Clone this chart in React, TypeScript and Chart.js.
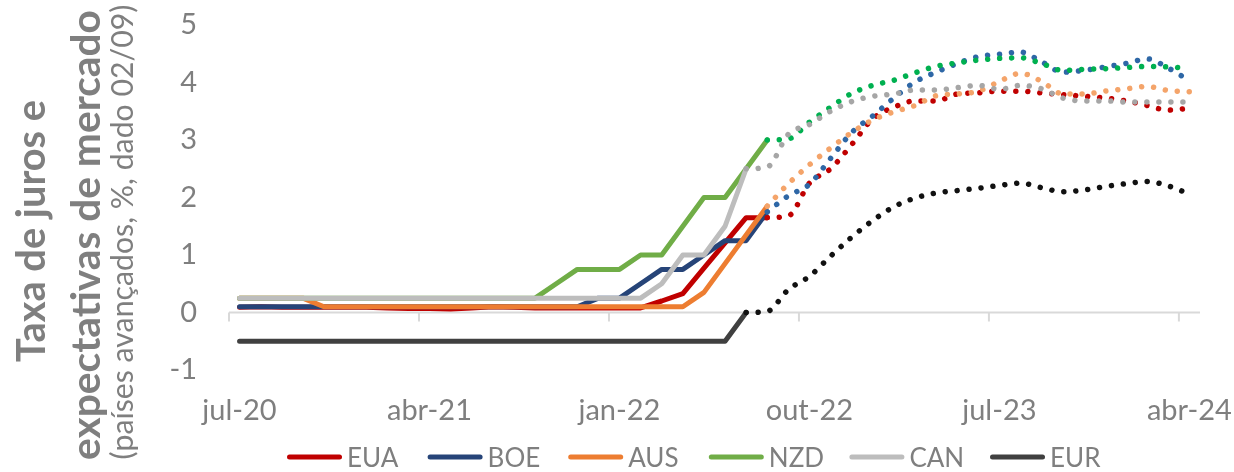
import React, { useEffect, useRef } from 'react';
import { Chart, registerables } from 'chart.js';

Chart.register(...registerables);

// ---- categories / ticks ----
const xTickMonths = [0, 9, 18, 27, 36, 45]; // months since jul-20
const xTickLabels = ['jul-20', 'abr-21', 'jan-22', 'out-22', 'jul-23', 'abr-24'];
const seriesNames = ['EUA', 'BOE', 'AUS', 'NZD', 'CAN', 'EUR'];

// ---- policy rates (monthly, from jul-20) ----
const euaRate = [0.09, 0.10, 0.09, 0.09, 0.09, 0.09, 0.09, 0.08, 0.07, 0.07, 0.06, 0.08, 0.10, 0.09, 0.08, 0.08, 0.08, 0.08, 0.08, 0.08, 0.20, 0.33, 0.77, 1.21, 1.65, 1.65];
const boeRate = [0.1, 0.1, 0.1, 0.1, 0.1, 0.1, 0.1, 0.1, 0.1, 0.1, 0.1, 0.1, 0.1, 0.1, 0.1, 0.1, 0.1, 0.25, 0.25, 0.5, 0.75, 0.75, 1.0, 1.25, 1.25, 1.75];
const ausRate = [0.25, 0.25, 0.25, 0.25, 0.1, 0.1, 0.1, 0.1, 0.1, 0.1, 0.1, 0.1, 0.1, 0.1, 0.1, 0.1, 0.1, 0.1, 0.1, 0.1, 0.1, 0.1, 0.35, 0.85, 1.35, 1.85];
const nzdRate = [0.25, 0.25, 0.25, 0.25, 0.25, 0.25, 0.25, 0.25, 0.25, 0.25, 0.25, 0.25, 0.25, 0.25, 0.25, 0.5, 0.75, 0.75, 0.75, 1.0, 1.0, 1.5, 2.0, 2.0, 2.5, 3.0];
const canRate = [0.25, 0.25, 0.25, 0.25, 0.25, 0.25, 0.25, 0.25, 0.25, 0.25, 0.25, 0.25, 0.25, 0.25, 0.25, 0.25, 0.25, 0.25, 0.25, 0.25, 0.5, 1.0, 1.0, 1.5, 2.5];
const eurRate = [-0.5, -0.5, -0.5, -0.5, -0.5, -0.5, -0.5, -0.5, -0.5, -0.5, -0.5, -0.5, -0.5, -0.5, -0.5, -0.5, -0.5, -0.5, -0.5, -0.5, -0.5, -0.5, -0.5, -0.5, 0];

// ---- market expectations (monthly), starting month index ----
const euaExpStart = 25;
const euaExp = [1.65, 1.68, 2.25, 2.5, 2.92, 3.37, 3.57, 3.68, 3.68, 3.8, 3.82, 3.85, 3.85, 3.82, 3.79, 3.76, 3.73, 3.68, 3.6, 3.52, 3.55];
const boeExpStart = 25;
const boeExp = [1.75, 2.03, 2.23, 2.68, 3.13, 3.42, 3.73, 4.01, 4.18, 4.33, 4.45, 4.49, 4.53, 4.36, 4.18, 4.21, 4.27, 4.33, 4.41, 4.25, 4.03];
const ausExpStart = 25;
const ausExp = [1.85, 2.24, 2.57, 2.86, 3.13, 3.35, 3.49, 3.6, 3.77, 3.8, 3.85, 4.02, 4.16, 4.02, 3.8, 3.8, 3.85, 3.89, 3.93, 3.86, 3.84];
const nzdExpStart = 25;
const nzdExp = [3.0, 3.02, 3.31, 3.57, 3.81, 3.95, 4.04, 4.17, 4.28, 4.34, 4.39, 4.42, 4.43, 4.33, 4.21, 4.23, 4.24, 4.26, 4.28, 4.27, 4.25];
const canExpStart = 24;
const canExp = [2.5, 2.53, 3.1, 3.27, 3.5, 3.67, 3.76, 3.8, 3.87, 3.87, 3.91, 3.95, 3.88, 3.95, 3.89, 3.73, 3.68, 3.68, 3.66, 3.66, 3.66, 3.66];
const eurExpStart = 24;
const eurExp = [0, 0.02, 0.4, 0.63, 0.98, 1.31, 1.6, 1.84, 1.99, 2.08, 2.12, 2.16, 2.21, 2.25, 2.17, 2.1, 2.13, 2.19, 2.24, 2.28, 2.2, 2.06];

const solidColors = ['#C00000', '#264478', '#ED7D31', '#70AD47', '#BDBDBD', '#404040'];
const dotColors = ['#C00000', '#2E67A6', '#F4A46A', '#00B050', '#A6A6A6', '#111111'];

const TEXT = '#7F7F7F';
const FONT = 'Lato, "Open Sans", sans-serif';

const toPoints = (vals: number[], start: number) => vals.map((v, k) => ({ x: start + k + 0.5, y: v }));

const solidData = [euaRate, boeRate, ausRate, nzdRate, canRate, eurRate];
const expData = [euaExp, boeExp, ausExp, nzdExp, canExp, eurExp];
const expStarts = [euaExpStart, boeExpStart, ausExpStart, nzdExpStart, canExpStart, eurExpStart];

function fitSize(ctx: CanvasRenderingContext2D, text: string, weight: string, target: number) {
  ctx.font = `${weight} 40px ${FONT}`;
  const w = ctx.measureText(text).width;
  return (40 * target) / w;
}

const decor = {
  id: 'decor',
  beforeDatasetsDraw(chart: any) {
    const { ctx, chartArea, scales } = chart;
    const x = scales.x;
    const y = scales.y;
    const y0 = y.getPixelForValue(0);
    ctx.save();
    ctx.strokeStyle = '#D9D9D9';
    ctx.lineWidth = 2;
    ctx.beginPath();
    ctx.moveTo(chartArea.left, y0);
    ctx.lineTo(chartArea.right, y0);
    x.ticks.forEach((t: any) => {
      const px = x.getPixelForValue(t.value);
      ctx.moveTo(px, y0);
      ctx.lineTo(px, y0 + 9);
    });
    ctx.stroke();
    ctx.restore();
  },
  afterDraw(chart: any) {
    const { ctx } = chart;
    ctx.save();
    ctx.fillStyle = TEXT;
    ctx.textAlign = 'center';
    ctx.textBaseline = 'alphabetic';
    const lines = [
      { text: 'Taxa de juros e', weight: 'bold', x: 45, y: 231, len: 262 },
      { text: 'expectativas de mercado', weight: 'bold', x: 100, y: 235, len: 450 },
      { text: '(países avançados, %, dado 02/09)', weight: 'normal', x: 133, y: 232, len: 455 },
    ];
    lines.forEach((l) => {
      const size = fitSize(ctx, l.text, l.weight, l.len);
      ctx.save();
      ctx.translate(l.x, l.y);
      ctx.rotate(-Math.PI / 2);
      ctx.font = `${l.weight} ${size}px ${FONT}`;
      ctx.fillText(l.text, 0, 0);
      ctx.restore();
    });

    // legend
    const startX = 287;
    const pitch = 140.6;
    const lineY = 457;
    ctx.textAlign = 'left';
    ctx.font = `normal 26px ${FONT}`;
    seriesNames.forEach((name, i) => {
      const x0 = startX + i * pitch;
      ctx.strokeStyle = solidColors[i];
      ctx.lineWidth = 5;
      ctx.lineCap = 'round';
      ctx.beginPath();
      ctx.moveTo(x0 + 2.5, lineY);
      ctx.lineTo(x0 + 52.5, lineY);
      ctx.stroke();
      ctx.fillStyle = TEXT;
      ctx.fillText(name, x0 + 60, 467);
    });
    ctx.restore();
  },
};

export default function App() {
  const ref = useRef<HTMLCanvasElement>(null);
  useEffect(() => {
    const solidSets = seriesNames.map((name, i) => ({
      label: name,
      data: toPoints(solidData[i], 0),
      borderColor: solidColors[i],
      backgroundColor: solidColors[i],
      borderWidth: 5,
      pointRadius: 0,
      tension: 0,
      borderCapStyle: 'round' as const,
      borderJoinStyle: 'round' as const,
      fill: false,
      order: 12 - i,
    }));
    const dotSets = seriesNames.map((name, i) => ({
      label: name + ' exp',
      data: toPoints(expData[i], expStarts[i]),
      borderColor: dotColors[i],
      backgroundColor: dotColors[i],
      borderWidth: 5.5,
      borderDash: [0.01, 12],
      borderCapStyle: 'round' as const,
      pointRadius: 0,
      cubicInterpolationMode: 'monotone' as const,
      fill: false,
      order: 6 - i,
    }));
    const chart = new Chart(ref.current!, {
      type: 'line',
      data: { datasets: [...solidSets, ...dotSets] as any },
      options: {
        responsive: false,
        animation: false,
        devicePixelRatio: 1,
        layout: { padding: { top: 25, right: 34, bottom: 47, left: 0 } },
        plugins: { legend: { display: false }, tooltip: { enabled: false } },
        scales: {
          x: {
            type: 'linear',
            min: 0,
            max: 46,
            grid: { display: false, drawTicks: false },
            border: { display: false },
            afterBuildTicks: (s: any) => {
              s.ticks = xTickMonths.map((v) => ({ value: v }));
            },
            afterFit: (s: any) => {
              s.height = 55;
              s.paddingLeft = 0;
              s.paddingRight = 0;
            },
            ticks: {
              autoSkip: false,
              maxRotation: 0,
              minRotation: 0,
              labelOffset: 10.5,
              padding: 23,
              color: TEXT,
              font: { family: FONT, size: 29 },
              callback: (_v: any, idx: number) => xTickLabels[idx],
            },
          },
          y: {
            min: -1,
            max: 5,
            grid: { display: false, drawTicks: false },
            border: { display: false },
            afterFit: (s: any) => {
              s.width = 229;
              s.paddingTop = 0;
              s.paddingBottom = 0;
            },
            ticks: {
              stepSize: 1,
              padding: 32,
              color: TEXT,
              font: { family: FONT, size: 29 },
            },
          },
        },
      },
      plugins: [decor],
    } as any);
    return () => chart.destroy();
  }, []);
  return (
    <div style={{ position: 'absolute', left: 0, top: 0, width: 1234, height: 472, background: '#fff' }}>
      <canvas ref={ref} width={1234} height={472} style={{ display: 'block', width: 1234, height: 472 }} />
    </div>
  );
}
